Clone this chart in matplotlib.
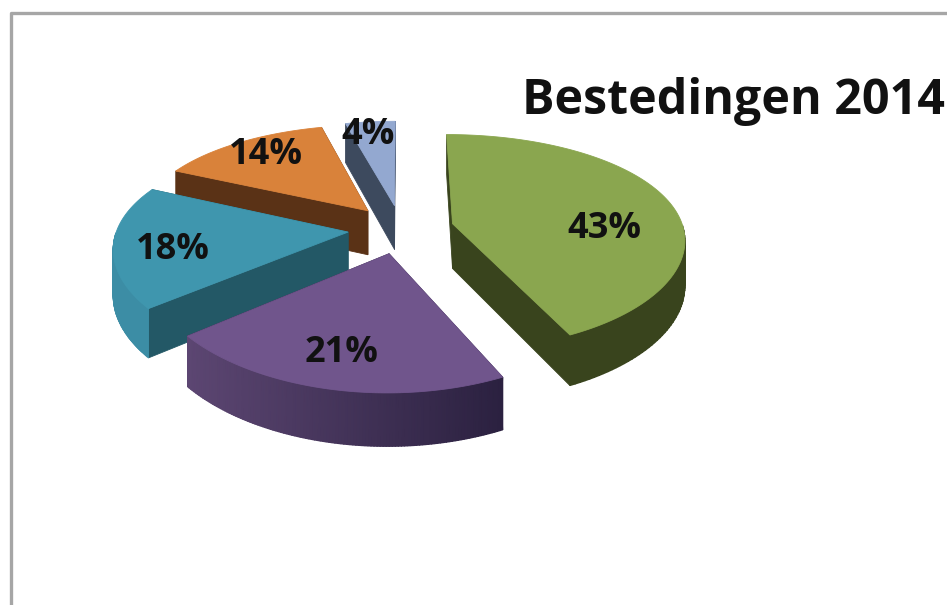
import matplotlib

matplotlib.use("Agg")
import matplotlib.pyplot as plt
import numpy as np
from matplotlib.colors import LinearSegmentedColormap
from matplotlib.patches import Polygon

title = "Bestedingen 2014"
shares = [43, 21, 18, 14, 4]
top_colors = ["#8aa64f", "#70558c", "#3f96ae", "#d9823a", "#93a8d0"]
side_colors = ["#39441d", "#2b2140", "#235866", "#5a3216", "#3d4a5e"]
wall_left = ["#39441d", "#5c4672", "#3c8da5", "#7d4a20", "#3d4a5e"]
wall_right = ["#39441d", "#2b2140", "#3c8da5", "#7d4a20", "#3d4a5e"]
label_pos = [(604, 229), (342, 353), (173, 250), (266, 155), (368, 135)]

CX, CY = 401, 229
RX, RY = 231, 106
PERSP_X = 0.13
PERSP_Y = 0.17
EXPLODE = 0.23
DEPTH = 45


def project(x, y):
    wx = 1 - PERSP_X * y
    wy = 1 - PERSP_Y * y
    return CX + RX * x / wx, CY + RY * y / wy, DEPTH / wx


def wedge_outline(a0, a1):
    mid = np.radians((a0 + a1) / 2)
    ox, oy = EXPLODE * np.sin(mid), -EXPLODE * np.cos(mid)
    ang = np.radians(np.linspace(a0, a1, 120))
    return ox, oy, ang


def face(ax, xs, ys, color, z):
    ax.add_patch(Polygon(np.column_stack([xs, ys]), closed=True, facecolor=color,
                         edgecolor=color, linewidth=0.6, zorder=z))


fig = plt.figure(figsize=(9.47, 6.05), dpi=100)
ax = fig.add_axes([0, 0, 1, 1])

# chart frame, runs off the right and bottom of the screenshot
ax.plot([10.5, 10.5, 947], [605, 12.5, 12.5], color="#a6a6a6", lw=2.4, zorder=1)

edges = np.cumsum([0] + shares) / sum(shares) * 360
# back pieces first
order = [4, 3, 2, 0, 1]
for n, i in enumerate(order):
    z = 2 + n * 3
    ox, oy, ang = wedge_outline(edges[i], edges[i + 1])
    px, py, pd = project(ox + np.sin(ang), oy - np.cos(ang))
    apx, apy, apd = project(ox, oy)

    # the two straight cut faces
    for k in (0, -1):
        face(ax, [apx, px[k], px[k], apx], [apy, py[k], py[k] + pd[k], apy + apd],
             side_colors[i], z)

    # outer wall only where it turns towards the viewer
    front = np.cos(ang) < 0
    if front.sum() > 1:
        xs = px[front]
        t = (xs - xs.min()) / max(xs.max() - xs.min(), 1)
        cmap = LinearSegmentedColormap.from_list("wall", [wall_left[i], wall_right[i]])
        ax.pcolormesh(np.vstack([xs, xs]),
                      np.vstack([py[front], py[front] + pd[front]]),
                      np.vstack([t, t]), cmap=cmap, vmin=0, vmax=1,
                      shading="gouraud", zorder=z + 1)

    face(ax, np.r_[apx, px], np.r_[apy, py], top_colors[i], z + 2)

ax.set_xlim(0, 947)
ax.set_ylim(605, 0)
ax.axis("off")

font = ["Open Sans", "DejaVu Sans"]
for value, (lx, ly) in zip(shares, label_pos):
    ax.text(lx, ly, f"{value}%", ha="center", va="center", fontsize=26,
            family=font, fontweight="bold", color="#111111", zorder=40)
ax.text(522, 102, title, ha="left", va="center", fontsize=34.8, family=font,
        fontweight="bold", color="#111111", zorder=40)

fig.savefig("out.png", dpi=100, facecolor="white")
